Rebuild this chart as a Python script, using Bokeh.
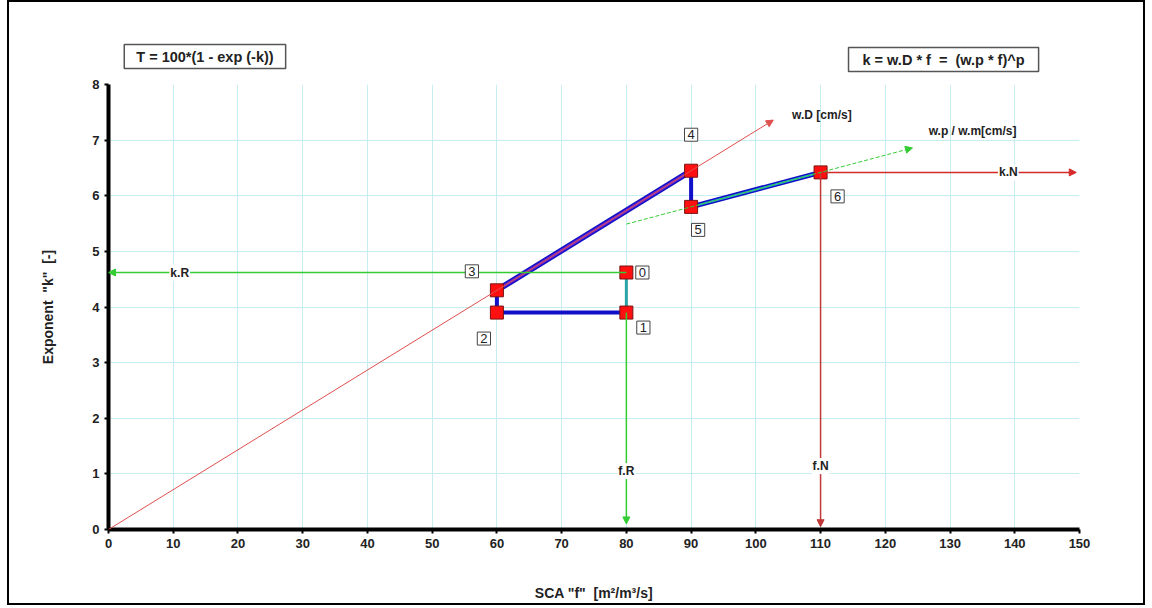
from bokeh.plotting import figure
from bokeh.layouts import column
from bokeh.models import Range1d, FixedTicker, Arrow, NormalHead, Label
from bokeh.embed import file_html
from bokeh.resources import INLINE

# Operating points on the k–f diagram
f_pts = [80, 80, 60, 60, 90, 90, 110]
k_pts = [4.62, 3.90, 3.90, 4.30, 6.45, 5.80, 6.42]
pt_names = ["0", "1", "2", "3", "4", "5", "6"]

# w.D line (k = w.D * f), drawn from the origin through point 4
wD_line_f = [0, 102.7]
wD_line_k = [0, 7.36]
# w.p / w.m line
wp_line_f = [80, 124.2]
wp_line_k = [5.49, 6.86]

x_ticks = list(range(0, 151, 10))
y_ticks = list(range(0, 9))

NB = "\u00a0"
formulas = ["T = 100*(1 - exp (-k))", f"k = w.D * f {NB}= {NB}(w.p * f)^p"]

FONT = "Liberation Sans"
W = 1134
F_RANGE = (0, 150)

# header strip holding the two formula boxes (shares the f scale of the plot below)
head = figure(width=W, height=72, output_backend="svg", toolbar_location=None,
              x_range=Range1d(*F_RANGE), y_range=Range1d(0, 72), min_border=0,
              x_axis_location=None, y_axis_location=None)
head.outline_line_color = None
head.background_fill_color = "white"
head.border_fill_color = "white"
head.grid.visible = False
for text, hx, hy, pad in zip(formulas, (14.9, 129.0), (18, 15), (12, 14)):
    head.add_layout(Label(x=hx, y=hy, text=text,
                          text_font=FONT, text_font_size="14.5px", text_font_style="bold",
                          text_color="#222222", text_align="center", text_baseline="middle",
                          background_fill_color="white", border_line_color="#555555",
                          border_line_width=1.5,
                          padding=dict(left=pad, right=pad, top=4, bottom=4)))

p = figure(width=W, height=529, output_backend="svg", toolbar_location=None,
           x_range=Range1d(*F_RANGE), y_range=Range1d(0, 8),
           min_border_left=99, min_border_right=64, min_border_top=10, min_border_bottom=74)
p.outline_line_color = None
p.background_fill_color = "white"
p.border_fill_color = "white"

for ax, ticks in ((p.xaxis[0], x_ticks), (p.yaxis[0], y_ticks)):
    ax.ticker = FixedTicker(ticks=ticks)
    ax.axis_line_width = 4
    ax.axis_line_color = "black"
    ax.major_tick_line_width = 2
    ax.major_tick_line_color = "black"
    ax.major_tick_in = 0
    ax.major_tick_out = 4
    ax.minor_tick_line_color = None
    ax.major_label_text_font = FONT
    ax.major_label_text_font_style = "bold"
    ax.major_label_text_font_size = "13px"
    ax.major_label_text_color = "#222222"
    ax.axis_label_text_font = FONT
    ax.axis_label_text_font_style = "bold"
    ax.axis_label_text_font_size = "14px"
    ax.axis_label_text_color = "#222222"

p.xaxis.axis_label = f'SCA "f" {NB}[m²/m³/s]'
p.yaxis.axis_label = f'Exponent {NB}"k" {NB}[-]'
p.xaxis.axis_label_standoff = 34
p.yaxis.axis_label_standoff = 33

p.xgrid.ticker = FixedTicker(ticks=x_ticks)
p.ygrid.ticker = FixedTicker(ticks=y_ticks)
p.grid.grid_line_color = "#c6eef0"
p.grid.grid_line_width = 1


def arrow(x0, y0, x1, y1, color, dash="solid", width=1):
    p.add_layout(Arrow(x_start=x0, y_start=y0, x_end=x1, y_end=y1,
                       line_color=color, line_width=width, line_dash=dash,
                       end=NormalHead(size=7, fill_color=color, line_color=color)))


def tag(x, y, text, size="12px", bold=True, dx=0, dy=0, box=False):
    p.add_layout(Label(x=x, y=y, text=text, x_offset=dx, y_offset=dy,
                       text_font=FONT, text_font_size=size,
                       text_font_style="bold" if bold else "normal",
                       text_color="#222222", text_align="center", text_baseline="middle",
                       background_fill_color="white",
                       border_line_color="#444444" if box else None,
                       border_line_width=1,
                       padding=dict(left=3, right=3, top=2, bottom=2) if box else 1))


GREEN = "#33cc33"
RED_LIGHT = "#e05050"
RED = "#d42a2a"
RED_DARK = "#c03838"

# w.D line from origin
arrow(wD_line_f[0], wD_line_k[0], wD_line_f[1], wD_line_k[1], RED_LIGHT)

# k.R / f.R from point 0 / 1
arrow(f_pts[0], k_pts[0], 0, k_pts[0], GREEN, width=1.5)
arrow(f_pts[1], k_pts[1], f_pts[1], 0.1, GREEN, width=1.5)

# k.N / f.N from point 6
arrow(f_pts[6], k_pts[6], 149.5, k_pts[6], RED, width=1.5)
arrow(f_pts[6], k_pts[6], f_pts[6], 0.05, RED_DARK, width=1.5)

# process path between the points
BLUE = "#1010c8"
p.line(f_pts[0:2], k_pts[0:2], line_color="#2aa5a5", line_width=3)
p.line(f_pts[1:4], k_pts[1:4], line_color=BLUE, line_width=4)
p.line(f_pts[3:5], k_pts[3:5], line_color=BLUE, line_width=6)
p.line(f_pts[3:5], k_pts[3:5], line_color="#7428c8", line_width=3)
p.line(f_pts[4:6], k_pts[4:6], line_color=BLUE, line_width=4)
p.line(f_pts[5:7], k_pts[5:7], line_color=BLUE, line_width=5)
p.line(f_pts[5:7], k_pts[5:7], line_color="#30b8c0", line_width=2)

# w.p / w.m line
arrow(wp_line_f[0], wp_line_k[0], wp_line_f[1], wp_line_k[1], GREEN, dash="4 2")

p.scatter(f_pts, k_pts, marker="square", size=13, fill_color="#ff1010",
          line_color="#7a1010", line_width=1)

# line captions
tag(11, k_pts[0], "k.R")
tag(139, k_pts[6], "k.N")
tag(f_pts[1], 1.05, "f.R")
tag(f_pts[6], 1.14, "f.N")
p.add_layout(Label(x=105.6, y=7.46, text="w.D [cm/s]", text_font=FONT, text_font_size="12px",
                   text_font_style="bold", text_color="#222222", text_baseline="middle"))
p.add_layout(Label(x=126.7, y=7.17, text="w.p / w.m[cm/s]", text_font=FONT, text_font_size="12px",
                   text_font_style="bold", text_color="#222222", text_baseline="middle"))

# point numbers (pixel offsets from each point)
pt_offsets = [(16, 0), (17, -15), (-13, -26), (-25, 19), (0, 36), (7, -23), (17, -24)]
for fx, ky, name, (dx, dy) in zip(f_pts, k_pts, pt_names, pt_offsets):
    tag(fx, ky, name, size="13px", bold=False, dx=dx, dy=dy, box=True)

page = column(head, p, styles={"border": "2px solid black", "margin-left": "7px",
                               "margin-top": "0px"})

open("out.html", "w").write(file_html(page, INLINE))
